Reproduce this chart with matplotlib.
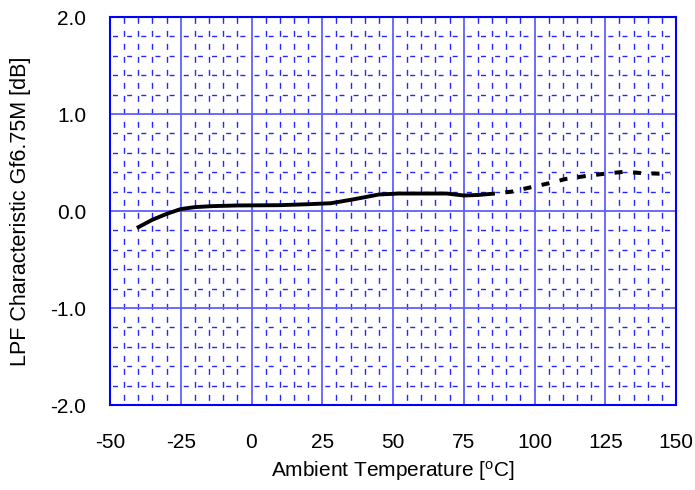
import numpy as np
import matplotlib
matplotlib.use('Agg')
import matplotlib.pyplot as plt

plt.rcParams['font.family'] = ['Liberation Sans', 'DejaVu Sans']
plt.rcParams['mathtext.fontset'] = 'custom'
plt.rcParams['mathtext.rm'] = 'Liberation Sans'
plt.rcParams['mathtext.it'] = 'Liberation Sans'
plt.rcParams['axes.unicode_minus'] = False

# measured part (solid)
t_meas = [-40.5, -35, -30, -25, -20, -14, -5, 0, 10, 20, 28, 36, 45, 52, 60, 69, 75, 80, 86]
g_meas = [-0.175, -0.09, -0.03, 0.02, 0.04, 0.05, 0.057, 0.058, 0.06, 0.07, 0.08, 0.12, 0.17, 0.18, 0.18, 0.18, 0.16, 0.165, 0.18]
# extrapolated part (dashed)
t_ext = [86, 92, 98, 105, 111, 118, 125, 132, 138, 144, 148]
g_ext = [0.18, 0.20, 0.24, 0.285, 0.33, 0.36, 0.385, 0.405, 0.39, 0.385, 0.39]

xticks = [-50, -25, 0, 25, 50, 75, 100, 125, 150]
yticks = [-2.0, -1.0, 0.0, 1.0, 2.0]

fig = plt.figure(figsize=(6.95, 4.9), dpi=100)
ax = fig.add_axes([110/695, 1-405/490, 566/695, 388/490])

blue = '#0000ff'
# minor grid
for x in np.arange(-50, 151, 5):
    if x % 25:
        ax.axvline(x, color=blue, lw=1.0, ls=(6.0, (4.3, 5.06)), alpha=0.85, zorder=1)
for y in np.arange(-2.0, 2.01, 0.2):
    if abs(y - round(y)) > 1e-6:
        ax.axhline(y, color=blue, lw=1.0, ls=(8.39, (3.6, 6.59)), alpha=0.85, zorder=1)
# major grid
for x in xticks[1:-1]:
    ax.axvline(x, color='#6060ff', lw=1.3, zorder=1)
for y in yticks[1:-1]:
    ax.axhline(y, color='#6060ff', lw=1.3, zorder=1)

ax.plot(t_meas, g_meas, color='black', lw=2.8, zorder=3,
        solid_capstyle='butt', solid_joinstyle='round')
ax.plot(t_ext, g_ext, color='black', lw=2.9, ls=(2.0, (2.0, 2.6)), zorder=3)

ax.set_xlim(-50, 150)
ax.set_ylim(-2.0, 2.0)
ax.set_xticks(xticks)
ax.set_yticks(yticks)
ax.set_yticklabels(['%.1f' % v for v in yticks])
ax.tick_params(length=0, labelsize=15)
ax.tick_params(axis='x', pad=20)
ax.tick_params(axis='y', pad=17)
for s in ax.spines.values():
    s.set_color(blue)
    s.set_linewidth(1.5)

ax.set_xlabel(r'Ambient Temperature [$^\mathrm{o}$C]', fontsize=15)
ax.xaxis.set_label_coords(0.5, -0.138)
ax.set_ylabel('LPF Characteristic Gf6.75M [dB]', fontsize=15.5)
ax.yaxis.set_label_coords(-0.14, 0.5)

fig.savefig('out.png', dpi=100)
